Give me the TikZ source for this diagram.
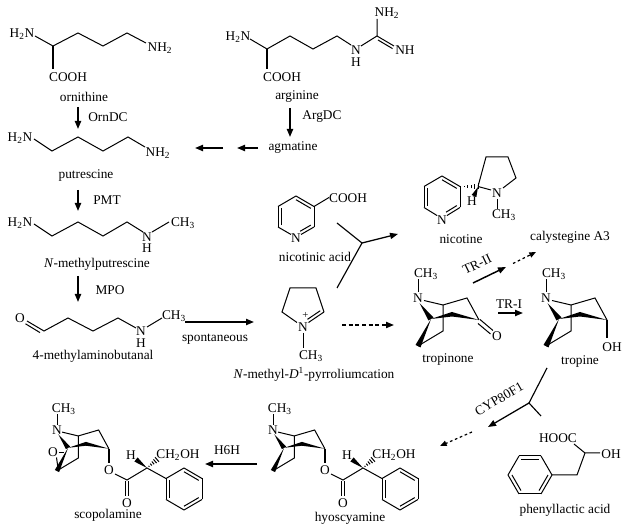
\documentclass[tikz,border=0pt]{standalone}
\usepackage{fontspec}
\setmainfont{Liberation Serif}
\usetikzlibrary{arrows.meta,calc}
\newcommand\chsub[1]{\textsubscript{#1}}
% ring double bond: edge plus inner line toward centre
\newcommand\rdb[6]{\draw[bond] (#1,#2)--(#3,#4);
  \draw[bond] ($(#1,#2)!0.18!(#5,#6)$) -- ($(#3,#4)!0.18!(#5,#6)$);}
% hashed wedge, narrow at first point
\newcommand\hashw[5]{%
 \pgfmathsetmacro\hwdx{(#3)-(#1)}%
 \pgfmathsetmacro\hwdy{(#4)-(#2)}%
 \pgfmathsetmacro\hwlen{veclen(\hwdx,\hwdy)}%
 \foreach \hh in {0.2,0.4,0.6,0.8,1.0}{%
  \pgfmathsetmacro\hwcx{(#1)+\hh*(\hwdx)}%
  \pgfmathsetmacro\hwcy{(#2)+\hh*(\hwdy)}%
  \pgfmathsetmacro\hwpx{-1*(\hwdy)/\hwlen*(#5)*\hh}%
  \pgfmathsetmacro\hwpy{(\hwdx)/\hwlen*(#5)*\hh}%
  \draw[bond] ({(\hwcx)+(\hwpx)},{(\hwcy)+(\hwpy)}) -- ({(\hwcx)-(\hwpx)},{(\hwcy)-(\hwpy)});
 }}
% solid wedge, narrow at first point
\newcommand\solidw[5]{%
 \pgfmathsetmacro\swdx{(#3)-(#1)}%
 \pgfmathsetmacro\swdy{(#4)-(#2)}%
 \pgfmathsetmacro\swlen{veclen(\swdx,\swdy)}%
 \pgfmathsetmacro\swpx{-1*(\swdy)/\swlen*(#5)}%
 \pgfmathsetmacro\swpy{(\swdx)/\swlen*(#5)}%
 \fill ({#1},{#2}) -- ({(#3)+(\swpx)},{(#4)+(\swpy)}) -- ({(#3)-(\swpx)},{(#4)-(\swpy)}) -- cycle;}
% tropane skeleton, local coordinates, N at origin
\newcommand\tropane[1]{%
 \draw[bond] (0,-6) -- (0,-19);
 \draw[bond] (6,2.5) -- (25,7) -- (49,0) -- (61,22);
 \draw[bond] (25,7) -- (25,33) -- (0,48);
 \fill (13,21) -- (34,14) -- (61,22) -- (34,18.5) -- cycle;
 \fill (1.5,5) -- (10.5,22.5) -- (15.5,19.5) -- cycle;
 \fill (13,21) -- (-2.5,47) -- (2.5,49.5) -- cycle;
 \node (#1N) at (0,0) {N};
 \node (#1Me) at (8,-24) {CH\chsub{3}};
}
% tropic ester part (hyoscyamine coordinates)
\newcommand\esterpart[1]{%
 \draw[bbond] (325,449) -- (325,463);
 \node (#1O1) at (325,470) {O};
 \draw[bond] (331,474) -- (343,480) -- (363,468);
 \draw[bond] (341.6,481) -- (341.6,496);
 \draw[bond] (344.6,481) -- (344.6,496);
 \node (#1O2) at (343,503) {O};
 \solidw{363}{468}{352}{459.5}{2.6}
 \node (#1H) at (347,455) {H};
 \hashw{363}{468}{373}{459.5}{3}
 \node (#1CH) at (394,455) {CH\chsub{2}OH};
 \draw[bond] (363,468) -- (382,478.5);
 \rdb{382}{478.5}{382}{499.5}{400}{489}
 \draw[bond] (382,478.5)--(400,468);
 \rdb{400}{468}{418}{478.5}{400}{489}
 \draw[bond] (418,478.5)--(418,499.5);
 \rdb{418}{499.5}{400}{510}{400}{489}
 \draw[bond] (400,510)--(382,499.5);
}
\tikzset{
 bond/.style={line width=0.75pt},
 bbond/.style={line width=1.7pt},
 rxn/.style={line width=1.3pt,-{Triangle[length=6pt,width=4.6pt]}},
 thinrxn/.style={line width=0.95pt,-{Triangle[length=6pt,width=4.6pt]}},
 branch/.style={line width=0.85pt},
 dashrxn/.style={line width=1.2pt,dash pattern=on 3pt off 2pt,-{Triangle[length=6pt,width=4.6pt]}},
 thindash/.style={line width=0.9pt,dash pattern=on 2pt off 2pt,-{Triangle[length=5pt,width=4pt]}},
}
\begin{document}
\begin{tikzpicture}[x=0.75pt,y=-0.75pt,font=\fontsize{10}{12}\selectfont,every node/.style={inner sep=0pt}]
\useasboundingbox (0,0) rectangle (633,530);
\fill[white] (0,0) rectangle (633,530);

% ornithine
\draw[bond] (35,36) -- (53,46) -- (78,33) -- (103,46) -- (127,33) -- (146,43);
\draw[bbond] (53,46) -- (53,69);
\node (ornA) at (22,34) {H\chsub{2}N};
\node (ornB) at (160,48) {NH\chsub{2}};
\node (ornC) at (68,77) {COOH};
\node (orn) at (84,97) {ornithine};
\coordinate (a1s) at (78,107); \coordinate (a1e) at (78,129);
\draw[rxn] (a1s) -- (a1e);
\node (ornDC) at (108,117) {OrnDC};

% putrescine
\draw[bond] (34,139) -- (52,151) -- (78,137) -- (103,151) -- (128,137) -- (145,147);
\node (putA) at (20,138) {H\chsub{2}N};
\node (putB) at (158,153) {NH\chsub{2}};
\node (put) at (86,176) {putrescine};
\coordinate (a2s) at (78,190); \coordinate (a2e) at (78,211);
\draw[rxn] (a2s) -- (a2e);
\node (pmt) at (107,200) {PMT};

% N-methylputrescine
\draw[bond] (34,224) -- (52,236) -- (78,222) -- (103,236) -- (127,222) -- (143,232);
\draw[bond] (152,232) -- (169,222);
\node (mpA) at (20,223) {H\chsub{2}N};
\node (mpN) at (147,237) {N};
\node (mpH) at (147,248) {H};
\node (mpMe) at (183,223) {CH\chsub{3}};
\node (mp) at (97,264) {\textit{N}-methylputrescine};
\coordinate (a3s) at (78,276); \coordinate (a3e) at (78,302);
\draw[rxn] (a3s) -- (a3e);
\node (mpo) at (110,290) {MPO};

% 4-methylaminobutanal
\draw[bond] (27,321) -- (44,331) -- (68,318) -- (93,331) -- (118,318) -- (136,328);
\draw[bond] (25.5,323.8) -- (40,332.6);
\draw[bond] (147,327) -- (162,318);
\node (mbO) at (20,318) {O};
\node (mbN) at (141,331) {N};
\node (mbH) at (141,343) {H};
\node (mbMe) at (174,316) {CH\chsub{3}};
\node (mb) at (93,356) {4-methylaminobutanal};
\coordinate (a4s) at (185,322); \coordinate (a4e) at (254,322);
\draw[rxn] (a4s) -- (a4e);
\node (spon) at (215,339) {spontaneous};

% arginine
\draw[bond] (250,39) -- (267,49) -- (290,36) -- (313,49) -- (337,36) -- (351,45);
\draw[bond] (361,46) -- (377,36) -- (377,19);
\draw[bond] (377,36) -- (394,46);
\draw[bond] (378,40) -- (392.5,48.6);
\draw[bbond] (267,49) -- (267,69);
\node (argA) at (238,37) {H\chsub{2}N};
\node (argN) at (356,50) {N};
\node (argH) at (356,62) {H};
\node (argB) at (387,13) {NH\chsub{2}};
\node (argC) at (405,50) {NH};
\node (argD) at (282,77) {COOH};
\node (arg) at (297,97) {arginine};
\coordinate (a5s) at (290,108); \coordinate (a5e) at (290,137);
\draw[rxn] (a5s) -- (a5e);
\node (argdc) at (322,117) {ArgDC};
\node (agm) at (293,148) {agmatine};
\coordinate (a6s) at (258,148); \coordinate (a6e) at (237,148);
\coordinate (a7s) at (223,148); \coordinate (a7e) at (195,148);
\draw[rxn] (a6s) -- (a6e);
\draw[rxn] (a7s) -- (a7e);

% nicotinic acid
\rdb{296}{196}{314}{206.5}{296}{216.7}
\draw[bond] (314,206.5) -- (314,227);
\rdb{314}{227}{301}{234.5}{296}{216.7}
\draw[bond] (291,234.5) -- (278,227);
\rdb{278}{227}{278}{206.5}{296}{216.7}
\draw[bond] (278,206.5) -- (296,196);
\draw[bond] (314,206.5) -- (329,197.5);
\node (naN) at (296,238) {N};
\node (naC) at (348,198) {COOH};
\node (na) at (315,257) {nicotinic acid};

% branched arrow to nicotine
\coordinate (j1) at (362,243);
\coordinate (j1a) at (337,223);
\coordinate (j1b) at (337,288);
\coordinate (j1e) at (398,234);
\draw[branch] (j1a) -- (j1);
\draw[branch] (j1b) -- (j1);
\draw[thinrxn] (j1) -- (j1e);

% nicotine
\rdb{442}{176}{460}{186.5}{442}{197}
\draw[bond] (460,186.5)--(460,207.5);
\rdb{460}{207.5}{447}{215.5}{442}{197}
\draw[bond] (437,215.5)--(424,207.5);
\rdb{424}{207.5}{424}{186.5}{442}{197}
\draw[bond] (424,186.5)--(442,176);
\hashw{461}{186.5}{478}{186.5}{3}
\draw[bond] (478,186.5) -- (486,157) -- (508,157) -- (516,178) -- (503,188);
\draw[bond] (491,190) -- (478,186.5);
\solidw{478}{187}{474}{196}{2.6}
\draw[bond] (497,199) -- (497,209);
\node (nicN1) at (442,220) {N};
\node (nicN2) at (497,193) {N};
\node (nicH) at (472,201) {H};
\node (nicMe) at (504,215) {CH\chsub{3}};
\node (nic) at (461,239) {nicotine};
\node (caly) at (570,237) {calystegine A3};

% pyrroline cation
\draw[bond] (297,322.5) -- (282,312) -- (290,288) -- (316,288) -- (324,312);
\rdb{324}{312}{308.5}{322.5}{303}{305}
\draw[bond] (303,333) -- (303,348);
\node (pyN) at (303,327) {N};
\node (pyP) at (305.5,315.5) {\fontsize{8}{8}\selectfont +};
\node (pyMe) at (311,356) {CH\chsub{3}};
\node (py) at (314,374) {\textit{N}-methyl-\textit{D}\textsuperscript{1}-pyrroliumcation};
\coordinate (a8s) at (342,325); \coordinate (a8e) at (394,325);
\draw[dashrxn] (a8s) -- (a8e);

% tropinone
\begin{scope}[shift={(418,298)}]
 \tropane{tpn}
 \draw[bond] (62,21.5) -- (75,32.5);
 \draw[bond] (60,25.5) -- (72.5,36);
 \node (tpnO) at (79,38) {O};
\end{scope}
\node (tpn) at (448,360) {tropinone};

% TR-II
\coordinate (a9s) at (473,283); \coordinate (a9e) at (506,267);
\coordinate (a10s) at (513,263.5); \coordinate (a10e) at (536,252);
\draw[rxn,line width=1.1pt] (a9s) -- (a9e);
\draw[thindash] (a10s) -- (a10e);
\node[rotate=26] (tr2) at (477,264) {TR-II};

% TR-I
\coordinate (a11s) at (498,313); \coordinate (a11e) at (523,313);
\draw[rxn] (a11s) -- (a11e);
\node (tr1) at (509,304) {TR-I};

% tropine
\begin{scope}[shift={(546,298)}]
 \tropane{tpe}
 \draw[bbond] (61,22) -- (61,40);
 \node (tpeOH) at (66,49) {OH};
\end{scope}
\node (tpe) at (580,362) {tropine};

% CYP80F1 branched arrow
\coordinate (j2) at (529,403);
\coordinate (j2a) at (547,368);
\coordinate (j2b) at (541,416);
\coordinate (j2e) at (488,427);
\draw[branch] (j2a) -- (j2) -- (j2b);
\draw[thinrxn] (j2) -- (j2e);
\coordinate (a12s) at (472,432); \coordinate (a12e) at (440,446);
\draw[thindash] (a12s) -- (a12e);
\node[rotate=30] (cyp) at (499,399) {CYP80F1};

% phenyllactic acid
\draw[bond] (574,444) -- (585,453) -- (600,453);
\draw[bond] (585,453) -- (577,475) -- (552,475);
\rdb{519}{456}{541}{456}{530}{475}
\draw[bond] (541,456)--(552,475);
\rdb{552}{475}{541}{494}{530}{475}
\draw[bond] (541,494)--(519,494);
\rdb{519}{494}{508}{475}{530}{475}
\draw[bond] (508,475)--(519,456);
\node (plaC) at (558,438) {HOOC};
\node (plaOH) at (611,454) {OH};
\node (pla) at (565,510) {phenyllactic acid};

% hyoscyamine
\begin{scope}[shift={(273,430)},scale=0.85]
 \tropane{hy}
\end{scope}
\esterpart{hy}
\node (hyo) at (350,518) {hyoscyamine};

% H6H
\coordinate (a13s) at (257,464); \coordinate (a13e) at (205,464);
\draw[rxn] (a13s) -- (a13e);
\node (h6h) at (227,450) {H6H};

% scopolamine
\begin{scope}[shift={(57,430)},scale=0.85]
 \tropane{sc}
\end{scope}
\begin{scope}[shift={(-216,0)}]
 \esterpart{sc}
\end{scope}
\draw[bond] (56.5,457.5) -- (58,468);
\draw[bond] (58.5,452.5) -- (64,452.5);
\node (scO) at (53,452) {O};
\node (sco) at (108,515) {scopolamine};
\end{tikzpicture}
\end{document}
